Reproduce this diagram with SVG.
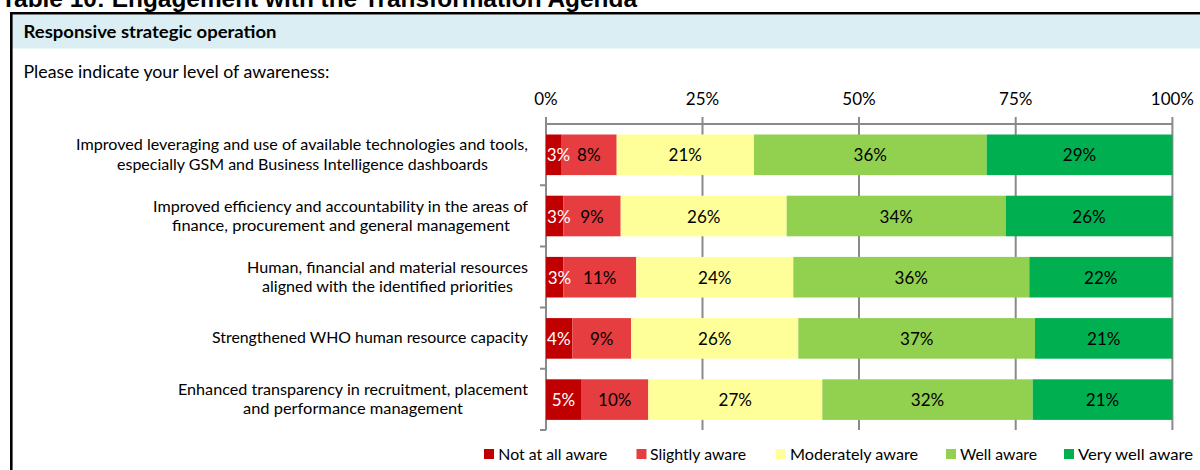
<svg xmlns="http://www.w3.org/2000/svg" width="1200" height="470" viewBox="0 0 1200 470">
<style>
.t{font-family:"Lato","Liberation Sans",sans-serif;fill:#000;}
.lab{font-size:16px;text-anchor:middle;}
.pct{font-size:17px;text-anchor:middle;}
.w{fill:#fff;}
.ax{font-size:17px;text-anchor:middle;}
.leg{font-size:16px;}
.grid{stroke:#8a8a8a;stroke-width:2;fill:none;}
.c1{fill:#C00000;}
.c2{fill:#E63D40;}
.c3{fill:#FFFF99;}
.c4{fill:#92D050;}
.c5{fill:#00B050;}
</style>
<rect x="0" y="0" width="1200" height="470" fill="#fff"/>
<g id="title">
<text x="1" y="7" font-family="'Liberation Sans',Arial,sans-serif" font-weight="bold" font-size="24" fill="#000" textLength="636" lengthAdjust="spacingAndGlyphs">Table 10: Engagement with the Transformation Agenda</text>
</g>
<g id="frame">
<rect x="12" y="14.5" width="1190" height="34" fill="#DAEEF3"/>
<line x1="10" y1="13.3" x2="1200" y2="13.3" stroke="#000" stroke-width="2.6"/>
<line x1="11.3" y1="12" x2="11.3" y2="470" stroke="#000" stroke-width="2.6"/>
<text class="t" x="23.5" y="37.5" font-size="16.5" font-weight="bold" textLength="253" lengthAdjust="spacingAndGlyphs">Responsive strategic operation</text>
<text class="t" x="23.5" y="78" font-size="16.5" textLength="306" lengthAdjust="spacingAndGlyphs">Please indicate your level of awareness:</text>
</g>
<g id="axis">
<text class="t ax" x="546" y="105">0%</text>
<text class="t ax" x="702.5" y="105">25%</text>
<text class="t ax" x="859" y="105">50%</text>
<text class="t ax" x="1015.7" y="105">75%</text>
<text class="t ax" x="1172.4" y="105">100%</text>
<path class="grid" d="M546 124H1172.4M546 117V430M702.5 117V430M859 117V430M1015.7 117V430M1172.4 117V430M540 185.2H546M540 246.4H546M540 307.6H546M540 368.8H546M540 430H546"/>
</g>
<g id="row1">
<text class="t lab" x="302" y="150" textLength="452" lengthAdjust="spacingAndGlyphs">Improved leveraging and use of available technologies and tools,</text>
<text class="t lab" x="302.5" y="169.5" textLength="371" lengthAdjust="spacingAndGlyphs">especially GSM and Business Intelligence dashboards</text>
<rect class="c1" x="546" y="134.5" width="15" height="40.6"/>
<rect class="c2" x="561" y="134.5" width="55.7" height="40.6"/>
<rect class="c3" x="616.7" y="134.5" width="137.3" height="40.6"/>
<rect class="c4" x="754" y="134.5" width="232.7" height="40.6"/>
<rect class="c5" x="986.7" y="134.5" width="185.7" height="40.6"/>
<text class="t pct w" x="558.5" y="161.3">3%</text>
<text class="t pct" x="588.8" y="161.3">8%</text>
<text class="t pct" x="685.3" y="161.3">21%</text>
<text class="t pct" x="870.3" y="161.3">36%</text>
<text class="t pct" x="1079.5" y="161.3">29%</text>
</g>
<g id="row2">
<text class="t lab" x="340.5" y="211.5" textLength="375" lengthAdjust="spacingAndGlyphs">Improved efficiency and accountability in the areas of</text>
<text class="t lab" x="341" y="231" textLength="338" lengthAdjust="spacingAndGlyphs">finance, procurement and general management</text>
<rect class="c1" x="546" y="195.7" width="17.3" height="40.6"/>
<rect class="c2" x="563.3" y="195.7" width="57.4" height="40.6"/>
<rect class="c3" x="620.7" y="195.7" width="166" height="40.6"/>
<rect class="c4" x="786.7" y="195.7" width="219" height="40.6"/>
<rect class="c5" x="1005.7" y="195.7" width="166.7" height="40.6"/>
<text class="t pct w" x="558.8" y="222.5">3%</text>
<text class="t pct" x="592" y="222.5">9%</text>
<text class="t pct" x="703.7" y="222.5">26%</text>
<text class="t pct" x="896.2" y="222.5">34%</text>
<text class="t pct" x="1089" y="222.5">26%</text>
</g>
<g id="row3">
<text class="t lab" x="387.5" y="272.5" textLength="281" lengthAdjust="spacingAndGlyphs">Human, financial and material resources</text>
<text class="t lab" x="387.5" y="292" textLength="251" lengthAdjust="spacingAndGlyphs">aligned with the identified priorities</text>
<rect class="c1" x="546" y="256.9" width="17.3" height="40.6"/>
<rect class="c2" x="563.3" y="256.9" width="73" height="40.6"/>
<rect class="c3" x="636.3" y="256.9" width="157" height="40.6"/>
<rect class="c4" x="793.3" y="256.9" width="236" height="40.6"/>
<rect class="c5" x="1029.3" y="256.9" width="143.1" height="40.6"/>
<text class="t pct w" x="559.5" y="283.7">3%</text>
<text class="t pct" x="599.8" y="283.7">11%</text>
<text class="t pct" x="714.8" y="283.7">24%</text>
<text class="t pct" x="911.3" y="283.7">36%</text>
<text class="t pct" x="1100.8" y="283.7">22%</text>
</g>
<g id="row4">
<text class="t lab" x="370" y="343" textLength="316" lengthAdjust="spacingAndGlyphs">Strengthened WHO human resource capacity</text>
<rect class="c1" x="546" y="318.1" width="26.3" height="40.6"/>
<rect class="c2" x="572.3" y="318.1" width="58.7" height="40.6"/>
<rect class="c3" x="631" y="318.1" width="167.3" height="40.6"/>
<rect class="c4" x="798.3" y="318.1" width="236.7" height="40.6"/>
<rect class="c5" x="1035" y="318.1" width="137.4" height="40.6"/>
<text class="t pct w" x="558.8" y="344.9">4%</text>
<text class="t pct" x="601.7" y="344.9">9%</text>
<text class="t pct" x="714.7" y="344.9">26%</text>
<text class="t pct" x="916.7" y="344.9">37%</text>
<text class="t pct" x="1103.7" y="344.9">21%</text>
</g>
<g id="row5">
<text class="t lab" x="353" y="394.5" textLength="350" lengthAdjust="spacingAndGlyphs">Enhanced transparency in recruitment, placement</text>
<text class="t lab" x="353" y="414" textLength="220" lengthAdjust="spacingAndGlyphs">and performance management</text>
<rect class="c1" x="546" y="379.3" width="35" height="40.6"/>
<rect class="c2" x="581" y="379.3" width="67.3" height="40.6"/>
<rect class="c3" x="648.3" y="379.3" width="174" height="40.6"/>
<rect class="c4" x="822.3" y="379.3" width="210.4" height="40.6"/>
<rect class="c5" x="1032.7" y="379.3" width="139.7" height="40.6"/>
<text class="t pct w" x="563.5" y="406.1">5%</text>
<text class="t pct" x="614.7" y="406.1">10%</text>
<text class="t pct" x="735.3" y="406.1">27%</text>
<text class="t pct" x="927.5" y="406.1">32%</text>
<text class="t pct" x="1102.5" y="406.1">21%</text>
</g>
<g id="legend">
<rect class="c1" x="484" y="449" width="10" height="10"/>
<text class="t leg" x="498.3" y="460" textLength="109" lengthAdjust="spacingAndGlyphs">Not at all aware</text>
<rect class="c2" x="636.5" y="449" width="10" height="10"/>
<text class="t leg" x="650" y="460" textLength="96" lengthAdjust="spacingAndGlyphs">Slightly aware</text>
<rect class="c3" x="775.5" y="449" width="10" height="10"/>
<text class="t leg" x="790" y="460" textLength="128" lengthAdjust="spacingAndGlyphs">Moderately aware</text>
<rect class="c4" x="946" y="449" width="10" height="10"/>
<text class="t leg" x="960" y="460" textLength="77" lengthAdjust="spacingAndGlyphs">Well aware</text>
<rect class="c5" x="1064" y="449" width="10" height="10"/>
<text class="t leg" x="1078" y="460" textLength="115" lengthAdjust="spacingAndGlyphs">Very well aware</text>
</g>
</svg>
